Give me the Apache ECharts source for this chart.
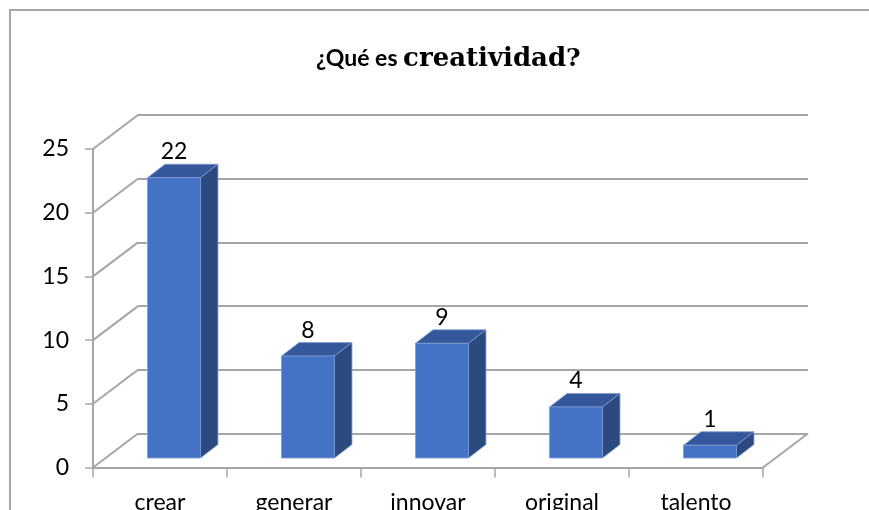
<html>
<head>
<meta charset="utf-8">
<script src="https://cdn.jsdelivr.net/npm/echarts@6/dist/echarts.min.js"></script>
</head>
<body style="margin:0;background:#fff">
<div id="chart" style="width:869px;height:510px;"></div>
<script type="text/javascript">

// data
var categories = ['crear', 'generar', 'innovar', 'original', 'talento'];
var values = [22, 8, 9, 4, 1];
var yTicks = [0, 5, 10, 15, 20, 25];

var lineGray = '#a6a6a6';
var depth = [45, -34];   // 3d offset of the back wall

var myChart = echarts.init(document.getElementById('chart'));

// left wall diagonals + right floor edge
function renderWalls(params, api) {
  var p = api.coord([0, api.value(1)]);
  var cs = params.coordSys;
  var kids = [{
    type: 'line',
    shape: { x1: cs.x, y1: p[1], x2: cs.x + depth[0], y2: p[1] + depth[1] },
    style: { stroke: lineGray, lineWidth: 2 }
  }];
  if (api.value(1) === 0) {
    kids.push({
      type: 'line',
      shape: { x1: cs.x + cs.width, y1: p[1], x2: cs.x + cs.width + depth[0], y2: p[1] + depth[1] },
      style: { stroke: lineGray, lineWidth: 2 }
    });
  }
  return { type: 'group', children: kids };
}

function renderBar(params, api) {
  var idx = api.value(0), v = api.value(1);
  var base = api.coord([idx, 0]);
  var top = api.coord([idx, v]);
  var band = api.size([1, 0])[0];
  var w = band * 0.395;
  var x0 = base[0] + 14 - w / 2, x1 = x0 + w;
  var yb = base[1] - 9.5, yt = top[1] - 9.5;
  var dx = 17.5, dy = -13.5;
  var edge = { stroke: '#7f9bd3', lineWidth: 0.8 };
  return {
    type: 'group',
    children: [
      { type: 'polygon', shape: { points: [[x0, yt], [x1, yt], [x1 + dx, yt + dy], [x0 + dx, yt + dy]] },
        style: Object.assign({ fill: '#34589b' }, edge) },
      { type: 'polygon', shape: { points: [[x1, yt], [x1 + dx, yt + dy], [x1 + dx, yb + dy], [x1, yb]] },
        style: Object.assign({ fill: '#2b4a80' }, edge) },
      { type: 'rect', shape: { x: x0, y: yt, width: w, height: yb - yt },
        style: Object.assign({ fill: '#4472c4' }, edge) },
      { type: 'text', style: { text: String(v), x: (x0 + x1) / 2, y: yt + dy - 1, align: 'center',
        verticalAlign: 'bottom', fontSize: 23, fontFamily: 'Lato', fill: '#000' } }
    ]
  };
}

var option = {
  backgroundColor: '#fff',
  animation: false,
  title: {
    text: '{a|¿Qué es }{b|creatividad}{c|?}',
    left: 311,
    top: 39,
    textStyle: {
      rich: {
        a: { fontFamily: 'Lato', fontSize: 23, color: '#000', lineHeight: 30 },
        b: { fontFamily: 'DejaVu Serif', fontWeight: 'bold', fontSize: 26, color: '#000', lineHeight: 30 },
        c: { fontFamily: 'DejaVu Serif', fontSize: 25, color: '#000', lineHeight: 30 }
      }
    }
  },
  graphic: [{
    type: 'polyline',
    shape: { points: [[10, 520], [10, 10], [880, 10]] },
    style: { stroke: lineGray, lineWidth: 2, fill: null }
  }],
  grid: [
    { left: 93, right: 106, top: 149, bottom: 42.5, outerBoundsMode: 'none' },
    { left: 93 + depth[0], right: 106 - depth[0], top: 149 + depth[1], bottom: 42.5 - depth[1], outerBoundsMode: 'none' }
  ],
  xAxis: [
    {
      type: 'category', gridIndex: 0, data: categories,
      axisLine: { lineStyle: { color: lineGray, width: 2 } },
      axisTick: { show: true, length: 10, lineStyle: { color: lineGray, width: 1.5 } },
      axisLabel: { color: '#000', fontFamily: 'Lato', fontSize: 23, margin: 24 }
    },
    { type: 'value', gridIndex: 1, show: false, min: 0, max: 1 }
  ],
  yAxis: [
    {
      type: 'value', gridIndex: 0, min: 0, max: 25, interval: 5,
      axisLine: { show: true, lineStyle: { color: lineGray, width: 2 } },
      axisTick: { show: true, length: 8, lineStyle: { color: lineGray, width: 1.5 } },
      axisLabel: { color: '#000', fontFamily: 'Lato', fontSize: 23, margin: 24 },
      splitLine: { show: false }
    },
    {
      type: 'value', gridIndex: 1, min: 0, max: 25, interval: 5,
      axisLine: { show: false }, axisTick: { show: false }, axisLabel: { show: false },
      splitLine: { show: true, lineStyle: { color: lineGray, width: 2 } }
    }
  ],
  series: [
    {
      type: 'custom', xAxisIndex: 0, yAxisIndex: 0, z: 1,
      renderItem: renderWalls,
      data: yTicks.map(function (t) { return [0, t]; })
    },
    {
      type: 'custom', xAxisIndex: 0, yAxisIndex: 0, z: 5,
      renderItem: renderBar,
      data: values.map(function (v, i) { return [i, v]; })
    }
  ]
};

myChart.setOption(option);

</script>
</body>
</html>
